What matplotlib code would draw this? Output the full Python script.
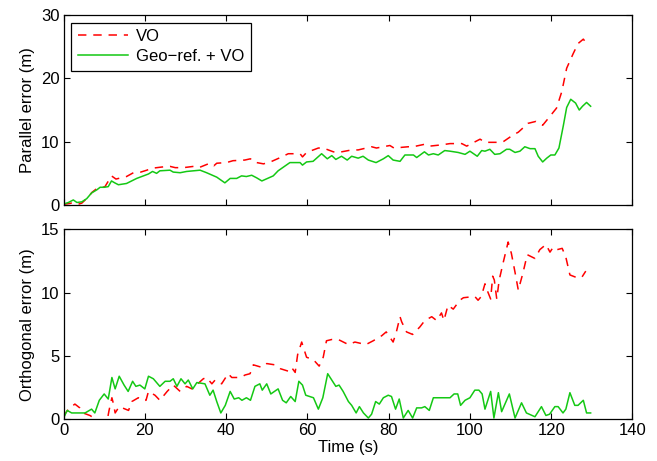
import matplotlib
matplotlib.use('Agg')
import matplotlib.pyplot as plt

plt.rcParams['font.family'] = ['Liberation Sans', 'DejaVu Sans']

#%% Data
# Parallel error, Geo-ref. + VO
t_par_geo = [0, 1.2, 2.4, 3.3, 4.5, 5.7, 6.9, 8.2, 9.0, 10.0, 11.0, 11.8, 12.6, 13.5,
             15.5, 18.0, 20.9, 21.9, 22.9, 23.7, 26.2, 27.0, 28.7, 30.3, 33.6, 35.2,
             37.7, 39.7, 41.0, 42.6, 43.8, 45.0, 46.3, 47.5, 48.8, 51.6, 52.8, 55.7,
             58.2, 58.8, 59.8, 61.4, 63.5, 64.9, 66.0, 67.0, 68.4, 69.8, 70.9, 72.5,
             73.7, 75.0, 76.9, 78.7, 79.9, 81.1, 82.8, 84.0, 86.1, 86.9, 88.8, 89.8,
             91.0, 92.2, 93.8, 95.1, 97.1, 98.8, 100.0, 101.8, 102.9, 103.7, 104.9,
             106.1, 107.4, 109.0, 109.8, 111.1, 112.3, 113.5, 114.8, 116.0, 116.8,
             117.9, 118.9, 119.9, 120.9, 121.9, 123.0, 123.8, 124.8, 126.0, 126.9,
             127.7, 128.7, 129.7]
par_geo = [0.15, 0.4, 0.8, 0.4, 0.5, 1.0, 1.9, 2.4, 2.8, 2.8, 2.9, 3.8, 3.5, 3.2,
           3.4, 4.2, 4.9, 5.3, 5.0, 5.4, 5.5, 5.2, 5.1, 5.3, 5.5, 5.1,
           4.4, 3.5, 4.2, 4.2, 4.6, 4.5, 4.7, 4.3, 3.8, 4.6, 5.4, 6.7,
           6.7, 6.3, 6.8, 6.9, 8.1, 7.3, 7.8, 7.2, 7.7, 7.1, 7.7, 7.4,
           7.7, 7.1, 6.7, 7.3, 7.8, 7.1, 6.9, 7.9, 7.9, 7.5, 8.4, 7.9,
           8.1, 7.9, 8.6, 8.5, 8.3, 8.0, 8.5, 7.7, 8.6, 8.5, 8.8,
           8.0, 8.1, 8.8, 8.8, 8.3, 8.5, 9.2, 8.9, 8.9, 7.7,
           6.8, 7.4, 7.9, 7.9, 9.0, 12.6, 15.4, 16.7, 16.1, 15.0,
           15.6, 16.2, 15.6]

# Parallel error, VO
t_par_vo = [0, 2.0, 3.5, 4.5, 6.0, 7.0, 8.2, 9.2, 10.2, 11.8, 12.9, 15.5, 17.2, 19.0,
            20.5, 21.7, 24.2, 26.2, 27.5, 29.5, 32.0, 33.3, 36.0, 37.0, 37.7, 40.1,
            41.7, 44.6, 46.0, 46.7, 49.2, 50.9, 53.7, 55.3, 58.2, 58.8, 59.8, 62.7,
            63.9, 66.4, 67.6, 70.9, 72.5, 75.8, 77.0, 80.3, 81.3, 84.8, 86.0, 88.9,
            90.1, 93.0, 95.1, 98.0, 99.2, 102.5, 103.7, 106.6, 108.2, 110.7, 111.9,
            114.3, 116.2, 117.9, 119.3, 121.3, 122.6, 123.8, 125.4, 126.6, 127.9, 129.1]
par_vo = [0.1, 0.3, 0.1, 0.3, 1.2, 2.0, 2.6, 2.7, 2.9, 4.6, 4.1, 4.5, 5.1, 5.2,
          5.5, 5.8, 6.0, 6.1, 5.9, 5.9, 6.1, 5.9, 6.6, 6.2, 6.6, 6.7,
          7.0, 7.1, 7.3, 6.8, 6.5, 6.8, 7.6, 8.1, 8.1, 7.6, 8.3, 9.0,
          9.0, 8.4, 8.3, 8.7, 8.7, 9.2, 9.0, 9.4, 9.0, 9.2, 9.2, 9.6,
          9.3, 9.5, 9.7, 9.7, 9.3, 10.4, 9.9, 9.9, 10.0, 11.1, 11.5,
          12.9, 13.2, 12.6, 13.7, 15.3, 17.9, 21.6, 23.9, 25.5, 26.2, 25.2]

# Orthogonal error, Geo-ref. + VO
t_ort_geo = [0, 0.9, 2.0, 5.3, 6.9, 7.7, 8.8, 10.0, 11.0, 11.9, 12.7, 13.7, 14.9, 15.9,
             17.0, 17.8, 18.8, 20.0, 20.9, 22.1, 23.7, 25.0, 26.2, 27.0, 27.9, 28.9,
             29.9, 30.7, 31.8, 32.8, 34.8, 36.0, 36.8, 37.7, 38.7, 39.8, 41.0, 42.0,
             43.1, 43.9, 45.0, 46.0, 47.1, 48.3, 48.9, 50.0, 51.0, 52.8, 53.9, 54.8,
             55.9, 57.0, 57.9, 58.8, 59.6, 61.5, 62.7, 63.8, 65.0, 67.0, 67.8, 68.8,
             70.1, 70.9, 72.0, 72.8, 73.8, 75.0, 75.8, 76.8, 77.7, 78.7, 79.9, 80.7,
             81.7, 82.6, 83.6, 84.8, 85.9, 86.9, 88.1, 88.9, 90.0, 91.0, 93.9, 95.1,
             96.1, 97.0, 97.7, 98.8, 100.0, 101.2, 102.2, 103.0, 103.7, 105.1, 105.9,
             107.0, 107.8, 109.7, 111.1, 112.7, 113.9, 116.0, 117.6, 118.7, 119.6,
             120.9, 121.7, 122.9, 123.6, 124.6, 125.8, 126.6, 127.9, 128.7, 129.7]
ort_geo = [0.1, 0.7, 0.5, 0.5, 0.8, 0.5, 1.5, 2.0, 1.6, 3.3, 2.4, 3.4, 2.7, 2.2,
           3.0, 2.6, 2.7, 2.4, 3.4, 3.2, 2.6, 3.0, 3.0, 3.2, 2.6, 3.2,
           2.8, 3.1, 2.4, 2.9, 2.8, 1.9, 2.3, 1.4, 0.5, 1.1, 2.2, 1.6,
           1.7, 1.5, 1.7, 1.5, 2.6, 2.8, 2.3, 2.8, 2.0, 2.4, 1.5, 1.3,
           1.8, 1.4, 3.0, 2.7, 1.9, 1.7, 0.8, 1.7, 3.6, 2.6, 2.7, 2.2,
           1.4, 1.1, 0.5, 1.0, 0.5, 0.1, 0.4, 1.4, 1.2, 1.7, 1.9, 1.8,
           0.8, 1.6, 0.1, 0.7, 0.1, 0.9, 0.9, 1.0, 0.7, 1.7, 1.7, 1.7,
           2.0, 2.0, 1.1, 1.5, 1.7, 2.3, 2.3, 2.0, 0.8, 2.2, 0.1,
           2.1, 0.6, 2.0, 0.1, 1.3, 0.5, 0.2, 1.0, 0.3, 0.4,
           1.0, 1.0, 0.5, 0.8, 2.1, 1.1, 1.1, 1.5, 0.5, 0.5]

# Orthogonal error, VO
t_ort_vo = [0, 0.5, 1.5, 2.8, 4.0, 4.8, 6.5, 8.0, 9.5, 10.8, 11.2, 11.9, 12.3, 12.7,
            13.7, 16.0, 16.8, 18.4, 19.3, 20.3, 20.9, 22.5, 23.7, 25.5, 27.0, 28.7,
            30.3, 31.6, 34.4, 35.2, 36.5, 37.3, 38.9, 40.5, 41.4, 43.5, 44.7, 45.9,
            46.7, 48.8, 50.0, 52.0, 53.3, 55.3, 56.1, 57.0, 57.6, 58.6, 59.8, 61.5,
            62.9, 63.9, 64.7, 66.0, 67.6, 70.1, 71.7, 74.4, 76.2, 78.3, 79.4, 81.1,
            81.9, 82.8, 83.2, 84.4, 85.9, 87.7, 88.9, 90.6, 91.8, 93.0, 93.6, 94.6,
            95.9, 97.5, 98.4, 101.2, 102.0, 102.8, 103.7, 104.1, 105.1, 105.6, 106.0,
            106.6, 107.2, 108.2, 109.4, 110.2, 111.1, 111.9, 113.0, 114.1, 116.0,
            117.2, 118.7, 119.7, 120.5, 121.5, 122.7, 123.6, 124.6, 126.2, 127.5, 128.5]
ort_vo = [0.2, 0.5, 0.9, 1.2, 0.9, 0.5, 0.3, 0.0, -0.3, 0.0, 0.7, 1.7, 1.2, 0.5,
          1.0, 0.7, 1.4, 1.7, 1.5, 1.5, 2.2, 1.9, 1.5, 2.2, 2.7, 2.2,
          2.6, 2.4, 3.2, 3.3, 2.8, 3.1, 2.8, 3.6, 3.3, 3.3, 3.5, 3.6,
          4.3, 4.1, 4.4, 4.3, 4.0, 3.8, 4.1, 3.7, 5.1, 6.1, 4.9, 4.7,
          4.2, 4.9, 6.2, 6.3, 6.3, 5.9, 6.1, 5.9, 6.2, 6.6, 6.9, 6.1,
          6.9, 8.1, 7.7, 6.9, 6.7, 7.3, 7.8, 8.1, 7.8, 8.4, 7.8, 9.0,
          8.7, 9.4, 9.6, 9.7, 9.4, 9.7, 10.7, 10.3, 9.5, 11.3, 11.0,
          9.5, 11.0, 12.4, 14.0, 13.1, 11.6, 10.2, 11.5, 13.0, 12.7,
          13.4, 13.8, 13.2, 13.6, 13.4, 13.5, 12.8, 11.4, 11.2, 11.2, 11.7]

#%% Plot setup
red = '#ff0000'
green = '#14c814'
dash = (5.5, 4.5)
fs = 12

fig = plt.figure(figsize=(6.57, 4.61), dpi=100)
ax1 = fig.add_axes([0.0967, 0.5553, 0.866, 0.412])
ax2 = fig.add_axes([0.0967, 0.0905, 0.866, 0.412])

#%% Subplot 1: parallel error
ax1.plot(t_par_vo, par_vo, color=red, lw=1.1, dashes=dash, label='VO')
ax1.plot(t_par_geo, par_geo, color=green, lw=1.1, label='Geo\u2212ref. + VO')
ax1.set_ylim(0, 30)
ax1.set_yticks([0, 10, 20, 30])
ax1.set_ylabel('Parallel error (m)', fontsize=fs)
ax1.set_xticklabels([])

leg = ax1.legend(loc='upper left', fontsize=fs, handlelength=3.0,
                 fancybox=False, framealpha=1, edgecolor='black',
                 borderaxespad=0.45, borderpad=0.4, labelspacing=0.3,
                 handletextpad=0.5)
leg.get_frame().set_linewidth(0.9)

#%% Subplot 2: orthogonal error
ax2.plot(t_ort_vo, ort_vo, color=red, lw=1.1, dashes=dash)
ax2.plot(t_ort_geo, ort_geo, color=green, lw=1.1)
ax2.set_ylim(0, 15)
ax2.set_yticks([0, 5, 10, 15])
ax2.set_ylabel('Orthogonal error (m)', fontsize=fs)
ax2.set_xlabel('Time (s)', fontsize=fs, labelpad=1)

for ax in (ax1, ax2):
    ax.set_xlim(0, 140)
    ax.set_xticks(range(0, 141, 20))
    ax.tick_params(direction='in', top=True, right=True, length=4,
                   width=0.8, labelsize=fs, pad=3)
    for sp in ax.spines.values():
        sp.set_linewidth(0.9)

fig.savefig('out.png', dpi=100)
